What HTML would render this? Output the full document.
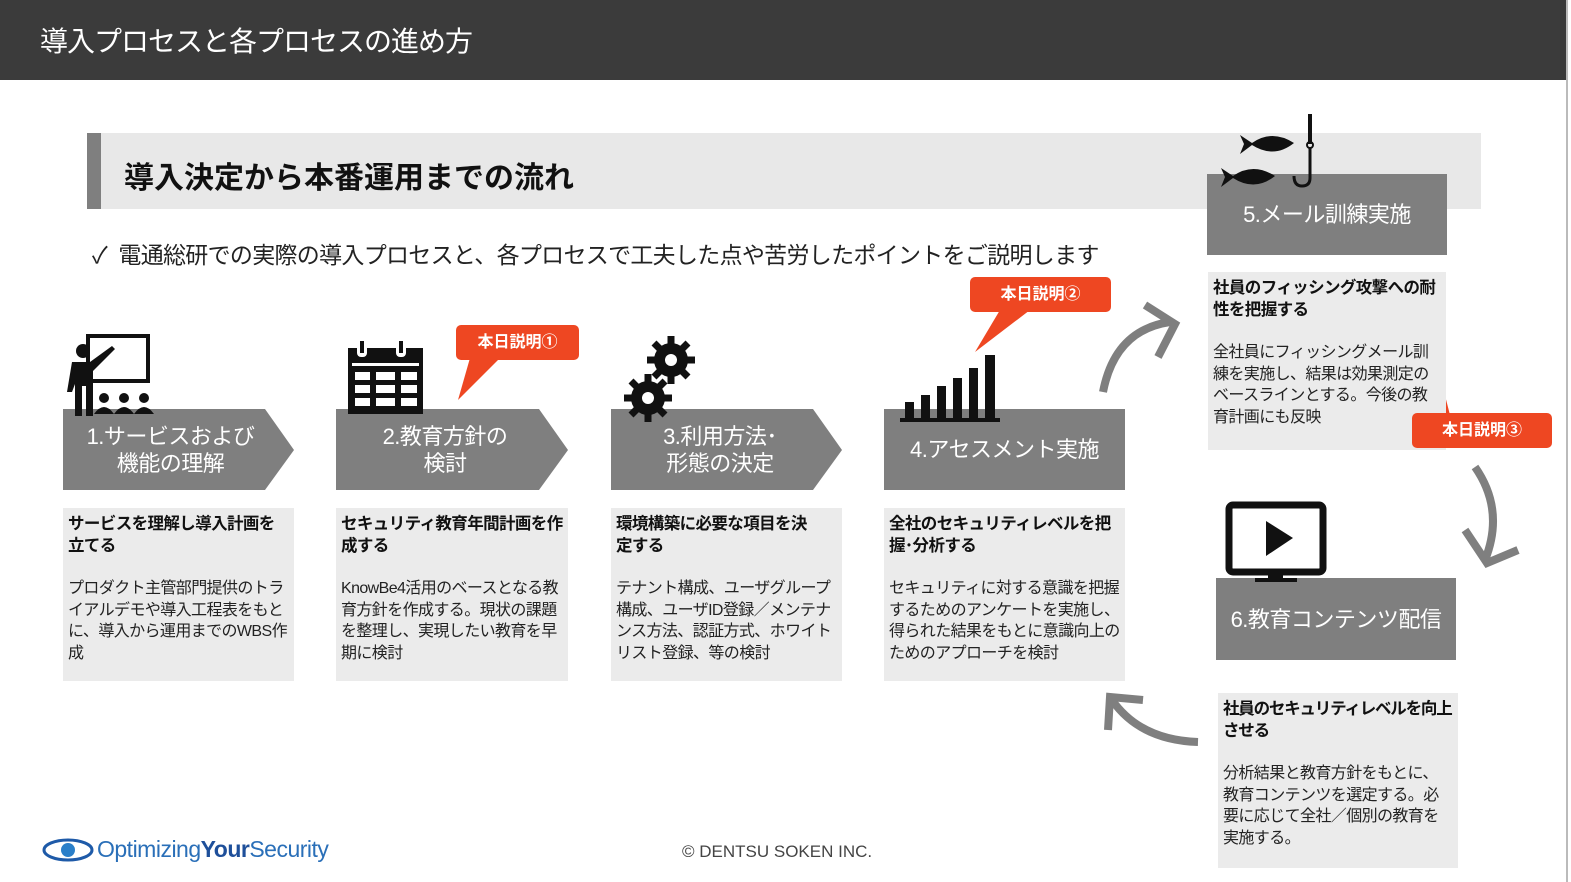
<!DOCTYPE html>
<html><head><meta charset="utf-8"><style>
body{margin:0;width:1571px;height:882px;position:relative;background:#fff;font-family:"Liberation Sans","Noto Sans CJK JP",sans-serif;overflow:hidden}
.a{position:absolute}
.hd{left:0;top:0;width:1566px;height:80px;background:#3b3b3b;color:#fff;font-size:28px;line-height:84px;padding-left:40px;box-sizing:border-box;letter-spacing:-1px}
.box{background:#ebebeb;font-size:16px;color:#222;line-height:21.5px;padding:6px 5px;box-sizing:border-box;letter-spacing:-0.6px}
.box b{display:block;font-size:16.5px;margin-bottom:21px;color:#111;letter-spacing:-0.6px;white-space:nowrap}
.gl{color:#fff;font-size:22px;text-align:center;display:flex;align-items:center;justify-content:center;line-height:27px;letter-spacing:-0.5px}
.co{background:#ee4722;color:#fff;font-weight:bold;font-size:16px;text-align:center;border-radius:5px}
</style></head><body>
<div class="a hd">導入プロセスと各プロセスの進め方</div>
<div class="a" style="left:1566px;top:0;width:2px;height:882px;background:#bbb"></div>
<div class="a" style="left:87px;top:133px;width:1394px;height:76px;background:#e8e8e8"></div>
<div class="a" style="left:87px;top:133px;width:14px;height:76px;background:#7f7f7f"></div>
<div class="a" style="left:124px;top:153px;font-size:30px;font-weight:bold;color:#111">導入決定から本番運用までの流れ</div>
<div class="a" style="left:92px;top:236px;font-size:23px;color:#222;letter-spacing:-0.7px">✓&nbsp; 電通総研での実際の導入プロセスと、各プロセスで工夫した点や苦労したポイントをご説明します</div>

<svg class="a" style="left:0;top:0" width="1571" height="882">
<g fill="#7f7f7f">
<polygon points="63,409 265,409 294,450 265,490 63,490"/>
<polygon points="336,409 539,409 568,450 539,490 336,490"/>
<polygon points="611,409 813,409 842,450 813,490 611,490"/>
<rect x="884" y="409" width="241" height="81"/>
<rect x="1207" y="174" width="240" height="81"/>
<rect x="1216" y="578" width="240" height="82"/>
</g>
<polygon points="470,358 500,358 458,400" fill="#ee4722"/>
<polygon points="1000,310 1030,310 975,352" fill="#ee4722"/>
<polygon points="1420,415 1450,415 1440,376" fill="#ee4722"/>
<g fill="none" stroke="#7f7f7f" stroke-width="8">
<path d="M1103,392 Q1115,330 1170,322"/>
<polyline points="1145,305 1175,324 1158,357"/>
<path d="M1475,467 Q1505,510 1485,560"/>
<polyline points="1465,530 1487,563 1518,550"/>
<path d="M1198,742 Q1140,740 1112,700"/>
<polyline points="1108,730 1110,697 1143,700"/>
</g>
<g fill="#111">
<rect x="88" y="336" width="60" height="45" fill="none" stroke="#111" stroke-width="4"/>
<circle cx="83" cy="351" r="7"/>
<path d="M72,362 h18 l22,-16 3,3 -22,22 v45 h-7 v-30 h-4 v30 h-7 v-32 l-3,8 h-5 z"/>
<circle cx="104" cy="398" r="5"/><circle cx="124" cy="398" r="5"/><circle cx="144" cy="398" r="5"/>
<path d="M94,414 q10,-14 20,0 z M114,414 q10,-14 20,0 z M134,414 q10,-14 20,0 z"/>
</g>
<g fill="#111">
<rect x="348" y="348" width="75" height="66"/>
<g fill="#fff">
<rect x="352" y="363" width="67" height="3"/>
<rect x="355" y="372" width="15" height="8"/><rect x="376" y="372" width="19" height="8"/><rect x="401" y="372" width="16" height="8"/>
<rect x="355" y="385" width="15" height="8"/><rect x="376" y="385" width="19" height="8"/><rect x="401" y="385" width="16" height="8"/>
<rect x="355" y="398" width="15" height="8"/><rect x="376" y="398" width="19" height="8"/><rect x="401" y="398" width="16" height="8"/>
<rect x="357" y="343" width="10" height="14" rx="4"/><rect x="396" y="343" width="10" height="14" rx="4"/>
</g>
<rect x="360" y="341" width="4" height="12"/><rect x="399" y="341" width="4" height="12"/>
</g>
<g fill="#111">
<circle cx="671" cy="360" r="17"/><circle cx="648" cy="398" r="17"/>
<g stroke="#111" stroke-width="7">
<path d="M671,336 v48 M647,360 h48 M654,343 l34,34 M688,343 l-34,34"/>
<path d="M648,374 v48 M624,398 h48 M631,381 l34,34 M665,381 l-34,34"/>
</g>
<circle cx="671" cy="360" r="6" fill="#fff"/><circle cx="648" cy="398" r="6" fill="#fff"/>
</g>
<g fill="#111">
<rect x="905" y="402" width="9" height="16"/><rect x="921" y="395" width="9" height="23"/><rect x="937" y="386" width="9" height="32"/>
<rect x="953" y="378" width="9" height="40"/><rect x="969" y="368" width="9" height="50"/><rect x="985" y="355" width="10" height="63"/>
<rect x="900" y="418" width="100" height="4"/>
</g>
<g fill="#111">
<path d="M1240,135 l12,8 q20,-14 42,0 q-20,16 -42,2 l-12,9 l4,-10 z"/>
<path d="M1221,168 l12,8 q20,-14 42,0 q-20,16 -42,2 l-12,9 l4,-10 z"/>
<rect x="1308" y="114" width="4" height="30"/>
<circle cx="1310" cy="145" r="3" fill="none" stroke="#111" stroke-width="2"/>
<path d="M1310,148 v30 q0,8 -8,8 q-8,0 -8,-10" fill="none" stroke="#111" stroke-width="3"/>
</g>
<g>
<rect x="1229" y="505" width="94" height="67" rx="4" fill="none" stroke="#111" stroke-width="7"/>
<polygon points="1266,521 1266,556 1293,538" fill="#111"/>
<rect x="1268" y="572" width="15" height="8" fill="#111"/><rect x="1255" y="578" width="42" height="4" fill="#111"/>
</g>
<ellipse cx="68" cy="850" rx="24" ry="10" fill="none" stroke="#1e5aa8" stroke-width="3"/>
<circle cx="68" cy="850" r="7" fill="#2a7fc9"/>
</svg>

<div class="a gl" style="left:63px;top:409px;width:215px;height:81px">1.サービスおよび<br>機能の理解</div>
<div class="a gl" style="left:336px;top:409px;width:218px;height:81px">2.教育方針の<br>検討</div>
<div class="a gl" style="left:611px;top:409px;width:218px;height:81px">3.利用方法･<br>形態の決定</div>
<div class="a gl" style="left:884px;top:409px;width:241px;height:81px">4.アセスメント実施</div>
<div class="a gl" style="left:1207px;top:174px;width:240px;height:81px">5.メール訓練実施</div>
<div class="a gl" style="left:1216px;top:578px;width:240px;height:82px">6.教育コンテンツ配信</div>

<div class="a box" style="left:63px;top:508px;width:231px;height:173px"><b>サービスを理解し導入計画を<br>立てる</b>プロダクト主管部門提供のトライアルデモや導入工程表をもとに、導入から運用までのWBS作成</div>
<div class="a box" style="left:336px;top:508px;width:232px;height:173px"><b>セキュリティ教育年間計画を作<br>成する</b>KnowBe4活用のベースとなる教育方針を作成する。現状の課題を整理し、実現したい教育を早期に検討</div>
<div class="a box" style="left:611px;top:508px;width:231px;height:173px"><b>環境構築に必要な項目を決<br>定する</b>テナント構成、ユーザグループ構成、ユーザID登録／メンテナンス方法、認証方式、ホワイトリスト登録、等の検討</div>
<div class="a box" style="left:884px;top:508px;width:241px;height:173px"><b>全社のセキュリティレベルを把<br>握･分析する</b>セキュリティに対する意識を把握するためのアンケートを実施し、得られた結果をもとに意識向上のためのアプローチを検討</div>
<div class="a box" style="left:1208px;top:272px;width:238px;height:178px"><b>社員のフィッシング攻撃への耐<br>性を把握する</b>全社員にフィッシングメール訓練を実施し、結果は効果測定のベースラインとする。今後の教育計画にも反映</div>
<div class="a box" style="left:1218px;top:693px;width:240px;height:175px"><b style="letter-spacing:-1.2px">社員のセキュリティレベルを向上<br>させる</b>分析結果と教育方針をもとに、教育コンテンツを選定する。必要に応じて全社／個別の教育を実施する。</div>

<div class="a co" style="left:456px;top:325px;width:123px;height:35px;line-height:35px">本日説明①</div>
<div class="a co" style="left:970px;top:277px;width:141px;height:35px;line-height:35px">本日説明②</div>
<div class="a co" style="left:1412px;top:413px;width:140px;height:35px;line-height:35px">本日説明③</div>

<div class="a" style="left:97px;top:836px;font-size:23px;color:#2a6fb8;letter-spacing:-0.5px">Optimizing<b style="color:#1e4f9a">Your</b>Security</div>
<div class="a" style="left:682px;top:842px;font-size:17px;color:#444">© DENTSU SOKEN INC.</div>
</body></html>
